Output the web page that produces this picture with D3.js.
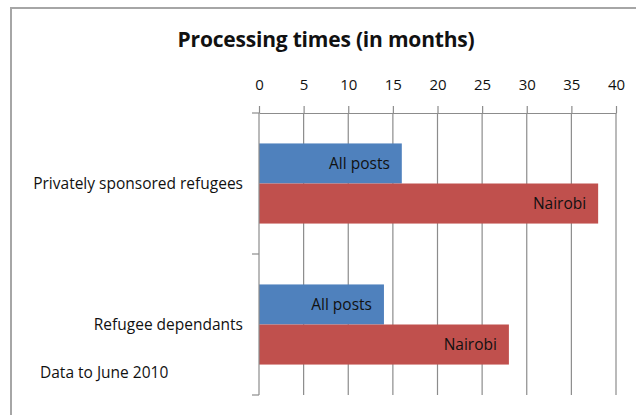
<!DOCTYPE html>
<html>
<head>
<meta charset="utf-8">
<script src="https://cdn.jsdelivr.net/npm/d3@7"></script>
<style>
  body { margin: 0; background: #fff; }
  text { font-family: "Open Sans", Lato, sans-serif; fill: #111; }
</style>
</head>
<body>
<svg id="chart" width="636" height="415"></svg>
<script>
// data
const categories = ["Privately sponsored refugees", "Refugee dependants"]
const series = ["All posts", "Nairobi"]
const allPosts = [16, 14]
const nairobi = [38, 28]
const tickValues = [0, 5, 10, 15, 20, 25, 30, 35, 40]

const colors = {"All posts": "#4F81BD", "Nairobi": "#C0504D"}

const svg = d3.select("#chart")

// outer frame (only top and left show in the picture)
svg.append("path")
  .attr("d", "M11,420 L11,8 L640,8")
  .attr("fill", "none")
  .attr("stroke", "#a6a6a6")
  .attr("stroke-width", 2)

// title
svg.append("text")
  .attr("x", 326)
  .attr("y", 47)
  .attr("text-anchor", "middle")
  .style("font-size", "21px")
  .style("font-weight", "bold")
  .style("letter-spacing", "-0.2px")
  .text("Processing times (in months)")

// scales
const x = d3.scaleLinear().domain([0, 40]).range([259, 616])
const y0 = d3.scaleBand().domain(categories).range([113, 395])
const y1 = d3.scaleBand().domain(series).range([0, y0.bandwidth()]).paddingOuter(0.76)

const rows = categories.map((c, i) => ({
  category: c,
  values: [
    {series: "All posts", value: allPosts[i]},
    {series: "Nairobi", value: nairobi[i]}
  ]
}))

// gridlines
svg.append("g")
  .selectAll("line")
  .data(tickValues.slice(1))
  .join("line")
    .attr("x1", d => x(d))
    .attr("x2", d => x(d))
    .attr("y1", 113)
    .attr("y2", 395)
    .attr("stroke", "#8c8c8c")
    .attr("stroke-width", 1.2)

// bars
const group = svg.append("g")
  .selectAll("g")
  .data(rows)
  .join("g")
    .attr("transform", d => `translate(0,${y0(d.category)})`)

group.selectAll("rect")
  .data(d => d.values)
  .join("rect")
    .attr("x", x(0))
    .attr("y", d => y1(d.series))
    .attr("width", d => x(d.value) - x(0))
    .attr("height", y1.bandwidth())
    .attr("fill", d => colors[d.series])

group.selectAll("text")
  .data(d => d.values)
  .join("text")
    .attr("x", d => x(d.value) - 12)
    .attr("y", d => y1(d.series) + y1.bandwidth() / 2)
    .attr("dy", "0.35em")
    .attr("text-anchor", "end")
    .style("font-size", "15.5px")
    .text(d => d.series)

// top value axis
const xAxis = svg.append("g")
  .attr("transform", "translate(0,113)")
  .call(d3.axisTop(x).tickValues(tickValues).tickSize(7).tickPadding(16).tickSizeOuter(0))
xAxis.select(".domain").attr("stroke", "#8c8c8c").attr("stroke-width", 1.2)
xAxis.selectAll(".tick line").attr("stroke", "#8c8c8c").attr("stroke-width", 1.2)
xAxis.selectAll(".tick text")
  .style("font-family", "'Open Sans', sans-serif")
  .style("font-size", "15px")
  .attr("fill", "#111")

// category axis
svg.append("line")
  .attr("x1", x(0)).attr("x2", x(0))
  .attr("y1", 113).attr("y2", 395)
  .attr("stroke", "#8c8c8c")
  .attr("stroke-width", 1.2)

const bounds = categories.map(c => y0(c)).concat([y0.range()[1]])
svg.append("g")
  .selectAll("line")
  .data(bounds)
  .join("line")
    .attr("x1", x(0) - 7)
    .attr("x2", x(0))
    .attr("y1", d => d)
    .attr("y2", d => d)
    .attr("stroke", "#8c8c8c")
    .attr("stroke-width", 1.2)

svg.append("g")
  .selectAll("text")
  .data(categories)
  .join("text")
    .attr("x", 243)
    .attr("y", d => y0(d) + y0.bandwidth() / 2)
    .attr("dy", "0.35em")
    .attr("text-anchor", "end")
    .style("font-size", "15.5px")
    .text(d => d)

// note
svg.append("text")
  .attr("x", 40)
  .attr("y", 373)
  .attr("dy", "0.35em")
  .style("font-size", "15.5px")
  .text("Data to June 2010")
</script>
</body>
</html>
